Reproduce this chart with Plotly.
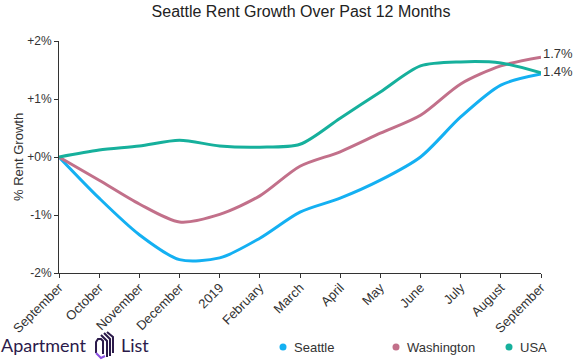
import plotly.graph_objects as go

months = ["September", "October", "November", "December", "2019", "February", "March",
          "April", "May", "June", "July", "August", "September"]
seattle = [0.0, -0.71, -1.34, -1.77, -1.74, -1.40, -0.95, -0.71, -0.40, 0.0, 0.69, 1.24, 1.43]
washington = [0.0, -0.40, -0.81, -1.12, -0.99, -0.67, -0.16, 0.09, 0.41, 0.72, 1.26, 1.57, 1.72]
usa = [0.0, 0.12, 0.19, 0.29, 0.19, 0.17, 0.22, 0.67, 1.12, 1.57, 1.64, 1.62, 1.45]
series = [("Seattle", seattle, "#14b0f2"), ("Washington", washington, "#c2708a"), ("USA", usa, "#16b09c")]
ytick_vals = [-2, -1, 0, 1, 2]
ytick_text = ["-2%", "-1%", "+0%", "+1%", "+2%"]
end_labels = [("1.7%", washington[-1] + 0.07), ("1.4%", usa[-1] + 0.02)]

W, H = 577, 362
L, R, T, B = 59, 36, 41, 89
PW, PH = W - L - R, H - T - B


def px(x):
    return (x - L) / PW


def py(y):
    return (H - B - y) / PH


xs = list(range(len(months)))
fig = go.Figure()
for name, vals, color in series:
    fig.add_trace(go.Scatter(x=xs, y=vals, mode="lines", name=name, showlegend=False,
                             line=dict(color=color, width=3, shape="spline", smoothing=0.8),
                             hoverinfo="skip"))

for text, yv in end_labels:
    fig.add_annotation(x=xs[-1], y=yv, text=text, showarrow=False, xanchor="left",
                       xshift=0, font=dict(size=13, color="#333333"))

# manual legend
legend_pos = [283, 396, 509]
for (name, vals, color), lx in zip(series, legend_pos):
    fig.add_shape(type="circle", xref="paper", yref="paper",
                  x0=px(lx - 3.5), x1=px(lx + 3.5), y0=py(347 + 3.5), y1=py(347 - 3.5),
                  fillcolor=color, line=dict(width=0))
    fig.add_annotation(xref="paper", yref="paper", x=px(lx + 9), y=py(347), text=name,
                       showarrow=False, xanchor="left", yanchor="middle",
                       font=dict(size=13, color="#333333"))

# y axis title
fig.add_annotation(xref="paper", yref="paper", x=px(18), y=0.5, text="% Rent Growth",
                   textangle=-90, showarrow=False, xanchor="center", yanchor="middle",
                   font=dict(size=13, color="#333333"))

fig.update_layout(
    width=W, height=H,
    margin=dict(l=L, r=R, t=T, b=B),
    paper_bgcolor="white", plot_bgcolor="white", showlegend=False,
    font=dict(family="Liberation Sans, Arial, sans-serif", size=12, color="#333333"),
    title=dict(text="Seattle Rent Growth Over Past 12 Months", x=301 / W, xanchor="center",
               xref="container", y=1 - 11 / H, yanchor="middle", font=dict(size=16, color="#222222")),
    xaxis=dict(range=[0, 12], tickvals=xs, ticktext=months, tickangle=-45, automargin=False,
               showgrid=False, zeroline=False, showline=True, linecolor="#333333",
               linewidth=1, ticks="outside", ticklen=4, tickcolor="#333333",
               ticklabelstandoff=-3, tickfont=dict(size=13)),
    yaxis=dict(range=[-2, 2], tickvals=ytick_vals, ticktext=ytick_text, automargin=False,
               showgrid=False, zeroline=False, showline=True, linecolor="#333333",
               linewidth=1, ticks="outside", ticklen=4, tickcolor="#333333",
               tickfont=dict(size=12)),
)

# Logo
fig.add_annotation(xref="paper", yref="paper", x=px(-1), y=py(345), xanchor="left",
                   yanchor="middle", text="Apartment", showarrow=False,
                   font=dict(size=18, color="#2b1a4a", family="Lato, sans-serif"))
fig.add_annotation(xref="paper", yref="paper", x=px(119), y=py(345), xanchor="left",
                   yanchor="middle", text="List", showarrow=False,
                   font=dict(size=18, color="#2b1a4a", family="Lato, sans-serif"))


def path(points):
    return "M " + " L ".join(f"{px(a):.4f} {py(b):.4f}" for a, b in points)


icon = [
    ([(96, 353), (96, 342), (98, 339), (101, 339), (103, 341), (103, 354)], "#2b1a4a"),
    ([(101, 335), (107, 341), (107, 357)], "#2b1a4a"),
    ([(104, 333), (110, 339), (110, 356)], "#2b1a4a"),
    ([(107, 332), (113, 337), (113, 353)], "#2b1a4a"),
    ([(96, 353), (101, 358), (105, 356)], "#8a4fe0"),
]
for pts, c in icon:
    fig.add_shape(type="path", path=path(pts), xref="paper", yref="paper",
                  line=dict(color=c, width=2))

fig.write_html("out.html", post_script="document.body.style.margin='0px';",
               config={"displayModeBar": False})
